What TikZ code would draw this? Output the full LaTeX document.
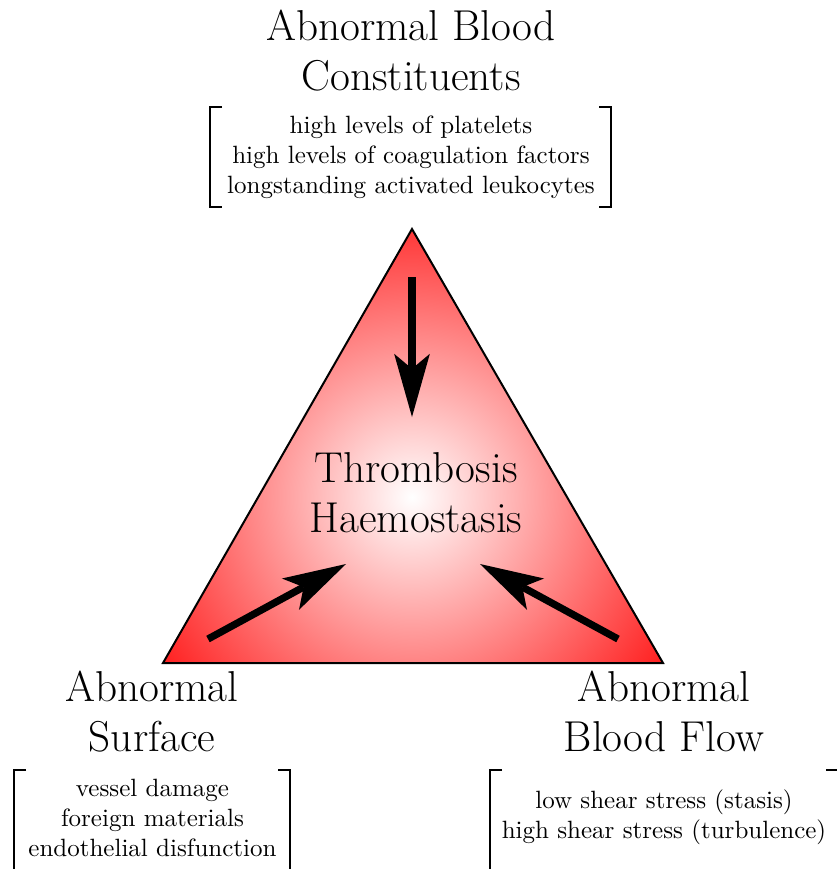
\documentclass[tikz,border=0pt]{standalone}
\usetikzlibrary{arrows.meta}
\tikzset{
  bigtext/.style={font=\fontsize{17.28}{19.9}\selectfont, align=center, inner sep=0pt, outer sep=0pt, anchor=north},
  smalltext/.style={font=\fontsize{10}{12}\selectfont, align=center, inner sep=0pt, outer sep=0pt, anchor=north},
  bracketline/.style={line width=0.5pt},
  trisides/.style={line width=0.8pt, line join=miter},
  bigarrow/.style={line width=2.9pt, -{Stealth[length=25.3pt, width=14.3pt, inset=6pt, line width=0pt]}}
}
\begin{document}
\begin{tikzpicture}[x=0.4pt, y=-0.4pt]
\useasboundingbox (0,0) rectangle (836,869);
% triangle
\coordinate (A) at (412,229);
\coordinate (B) at (163,663);
\coordinate (C) at (663,663);
\begin{scope}
  \clip (A) -- (B) -- (C) -- cycle;
  \shade[inner color=white, outer color=red] (412,497) circle (137pt);
\end{scope}
\draw[trisides] (A) -- (B) -- (C) -- cycle;
% titles
\node[bigtext] (ttl) at (411,10) {Abnormal Blood\\Constituents};
\node[bigtext] (ctr) at (416,453) {Thrombosis\\Haemostasis};
\node[bigtext] (bl) at (152,671) {Abnormal\\Surface};
\node[bigtext] (br) at (664,671) {Abnormal\\Blood Flow};
% lists
\node[smalltext] (tl) at (411,116.3) {high levels of platelets\\high levels of coagulation factors\\longstanding activated leukocytes};
\node[smalltext] (ll) at (152.5,779) {vessel damage\\foreign materials\\endothelial disfunction};
\node[smalltext] (rl) at (664,790) {low shear stress (stasis)\\high shear stress (turbulence)};
% brackets
\draw[bracketline] (222,107) -- (210,107) -- (210,207) -- (222,207);
\draw[bracketline] (599,107) -- (611,107) -- (611,207) -- (599,207);
\draw[bracketline] (26,770) -- (14,770) -- (14,890);
\draw[bracketline] (278,770) -- (290,770) -- (290,890);
\draw[bracketline] (502,770) -- (490,770) -- (490,890);
\draw[bracketline] (826,770) -- (838,770) -- (838,890);
% arrows
\coordinate (t1) at (412,277);
\coordinate (h1) at (412,417);
\coordinate (t2) at (208,639);
\coordinate (h2) at (346,564);
\coordinate (t3) at (618,639);
\coordinate (h3) at (480,564);
\draw[bigarrow] (t1) -- (h1);
\draw[bigarrow] (t2) -- (h2);
\draw[bigarrow] (t3) -- (h3);
\end{tikzpicture}
\end{document}
